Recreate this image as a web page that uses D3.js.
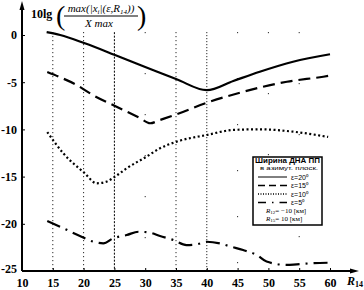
<!DOCTYPE html>
<html>
<head>
<meta charset="utf-8">
<script src="https://cdn.jsdelivr.net/npm/d3@7"></script>
<style>
  body { margin: 0; background: #fff; }
  svg { display: block; }
</style>
</head>
<body>
<svg id="chart"></svg>
<script>
// R14 values (km) and curves for each beam width
const r20 = [14, 16.2, 20.2, 25.1, 30, 35.1, 40, 44.3, 48.6, 54, 60];
const eps20 = [0.3, 0, -0.88, -2.12, -3.4, -4.69, -5.85, -4.87, -3.89, -2.83, -2.04];

const r15 = [14.1, 16.2, 18.9, 21.5, 25.1, 29.2, 30.8, 32.4, 35.1, 40, 45.4, 53, 58.9, 60];
const eps15 = [-3.92, -4.48, -5.3, -6.36, -7.52, -8.82, -9.35, -9.0, -8.4, -7.17, -6.11, -4.95, -4.42, -4.3];

const r10 = [14.1, 16.7, 20.2, 22.1, 23.7, 25.1, 27, 30.2, 32.4, 35.1, 40, 44.3, 48.6, 54, 59.7];
const eps10 = [-10.28, -12.53, -14.65, -15.71, -15.54, -15.01, -14.12, -12.89, -12.0, -11.3, -10.59, -10.06, -9.99, -10.24, -10.8];

const r5 = [14.1, 16.2, 19.4, 21.6, 23.2, 24.8, 27, 28.9, 30.8, 32.4, 34.6, 36.7, 38.4, 40, 42.1, 43.8, 45.9, 48.1, 49.7, 53, 54.6, 57, 60];
const eps5 = [-19.7, -20.31, -21.29, -21.9, -22.07, -21.54, -21.19, -20.84, -20.94, -21.29, -21.72, -22.25, -22.17, -21.9, -22.07, -22.4, -22.78, -23.3, -24.0, -24.36, -24.29, -24.18, -24.12];

const xTicks = [10, 15, 20, 25, 30, 35, 40, 45, 50, 55, 60];
const yTicks = [0, -5, -10, -15, -20, -25];
const legendLabels = ["ε=20⁰", "ε=15⁰", "ε=10⁰", "ε=5⁰"];

const W = 364, H = 290;
const svg = d3.select("#chart").attr("width", W).attr("height", H);

const x = d3.scaleLinear().domain([10, 60]).range([22, 330]);
const y = d3.scaleLinear().domain([-25, 0]).range([271, 35]);

const serif = "'Liberation Serif', 'Times New Roman', serif";

// vertical guide lines
const guides = [
    { r: 15, dash: "1,3" }, { r: 20, dash: "1,3" }, { r: 25, dash: "2,1.5" },
    { r: 30, dash: "1,40" }, { r: 35, dash: "1,3" }, { r: 40, dash: "1,2" },
    { r: 45, dash: "1,45" }, { r: 50, dash: "1,60" }, { r: 55, dash: "1,50" }
];
svg.selectAll(".guide").data(guides).join("line")
    .attr("class", "guide")
    .attr("x1", d => x(d.r)).attr("x2", d => x(d.r))
    .attr("y1", y(0.3)).attr("y2", y(-25))
    .attr("stroke", "#000").attr("stroke-width", 1)
    .attr("stroke-dasharray", d => d.dash);

// axes
const xAxis = svg.append("g")
    .attr("transform", `translate(0,${y(-25)})`)
    .call(d3.axisBottom(x).tickValues(xTicks).tickSizeInner(-3).tickSizeOuter(0).tickPadding(7).tickFormat(d => d.toString()));
xAxis.select(".domain").remove();
xAxis.selectAll("text").attr("font-family", serif).attr("font-size", 12).attr("font-weight", "bold").attr("fill", "#000");

const yAxis = svg.append("g")
    .attr("transform", `translate(${x(10)},0)`)
    .call(d3.axisLeft(y).tickValues(yTicks).tickSizeInner(-3).tickSizeOuter(0).tickPadding(5).tickFormat(d => d.toString()));
yAxis.select(".domain").remove();
yAxis.selectAll("text").attr("font-family", serif).attr("font-size", 12).attr("font-weight", "bold").attr("fill", "#000");
yAxis.selectAll(".tick").filter(d => d === -25).select("text").attr("dy", "0.1em");
yAxis.selectAll(".tick").filter(d => d === -25).select("line").remove();

// axis lines with arrows
svg.append("line").attr("x1", x(10)).attr("x2", x(10)).attr("y1", y(-25)).attr("y2", 8)
    .attr("stroke", "#000").attr("stroke-width", 2);
svg.append("path").attr("d", `M${x(10) - 2.5},10 L${x(10)},1 L${x(10) + 2.5},10 Z`).attr("fill", "#000");
svg.append("line").attr("x1", x(10)).attr("x2", 352).attr("y1", y(-25)).attr("y2", y(-25))
    .attr("stroke", "#000").attr("stroke-width", 2);
svg.append("path").attr("d", `M350,${y(-25) - 2.5} L359,${y(-25)} L350,${y(-25) + 2.5} Z`).attr("fill", "#000");

// R14 axis label
const rl = svg.append("text").attr("x", 347).attr("y", 285)
    .attr("font-family", serif).attr("font-size", 12).attr("font-style", "italic").attr("font-weight", "bold");
rl.append("tspan").text("R");
rl.append("tspan").attr("font-size", 8).attr("font-style", "normal").attr("dy", 2).text("14");

// title formula
svg.append("text").attr("x", 31).attr("y", 18)
    .attr("font-family", serif).attr("font-size", 12).attr("font-weight", "bold").text("10lg");
svg.append("text").attr("x", 56).attr("y", 25)
    .attr("font-family", serif).attr("font-size", 28).attr("font-weight", "normal").text("(");
svg.append("text").attr("x", 137).attr("y", 25)
    .attr("font-family", serif).attr("font-size", 28).attr("font-weight", "normal").text(")");
const num = svg.append("text").attr("x", 101).attr("y", 12).attr("text-anchor", "middle")
    .attr("font-family", serif).attr("font-size", 11).attr("font-style", "italic");
num.append("tspan").text("max(|x");
num.append("tspan").attr("font-size", 7).attr("dy", 2).text("i");
num.append("tspan").attr("dy", -2).text("|(ε,R");
num.append("tspan").attr("font-size", 7).attr("dy", 2).text("14");
num.append("tspan").attr("dy", -2).text("))");
svg.append("line").attr("x1", 64).attr("x2", 138).attr("y1", 16).attr("y2", 16)
    .attr("stroke", "#000").attr("stroke-width", 1);
svg.append("text").attr("x", 99).attr("y", 27).attr("text-anchor", "middle")
    .attr("font-family", serif).attr("font-size", 11).attr("font-style", "italic").text("X max");

// curves
const series = [
    { r: r20, v: eps20, dash: null },
    { r: r15, v: eps15, dash: "12,6" },
    { r: r10, v: eps10, dash: "2,2.5" },
    { r: r5, v: eps5, dash: "14,6,2,6" }
];
const line = d3.line().x(d => x(d[0])).y(d => y(d[1])).curve(d3.curveMonotoneX);
series.forEach(s => {
    svg.append("path")
        .datum(s.r.map((r, i) => [r, s.v[i]]))
        .attr("fill", "none")
        .attr("stroke", "#000")
        .attr("stroke-width", 2.2)
        .attr("stroke-dasharray", s.dash)
        .attr("d", line);
});

// legend
const lg = svg.append("g");
lg.append("rect").attr("x", 253).attr("y", 157).attr("width", 69).attr("height", 68)
    .attr("fill", "#fff").attr("stroke", "#000").attr("stroke-width", 1.5);
const sans = "'Liberation Sans', Arial, sans-serif";
lg.append("text").attr("x", 255).attr("y", 163).attr("font-family", sans).attr("font-size", 7)
    .attr("font-weight", "bold").attr("textLength", 65).attr("lengthAdjust", "spacingAndGlyphs").text("Ширина ДНА ПП");
lg.append("text").attr("x", 260).attr("y", 169.5).attr("font-family", sans).attr("font-size", 5.5)
    .attr("textLength", 58).attr("lengthAdjust", "spacingAndGlyphs").text("в азимут. плоск.");
series.forEach((s, i) => {
    const ly = 177 + i * 8.5;
    lg.append("line").attr("x1", 258).attr("x2", 287).attr("y1", ly).attr("y2", ly)
        .attr("stroke", "#000").attr("stroke-width", i === 0 ? 1 : 1.5)
        .attr("stroke-dasharray", i === 0 ? null : (i === 1 ? "7,4" : i === 2 ? "1,1.5" : "8,6,1.5,6"));
    lg.append("text").attr("x", 291).attr("y", ly + 2.5).attr("font-family", sans).attr("font-size", 7)
        .text(legendLabels[i]);
});
const t1 = lg.append("text").attr("x", 266).attr("y", 213).attr("font-family", serif).attr("font-size", 7);
t1.append("tspan").attr("font-style", "italic").text("R");
t1.append("tspan").attr("font-size", 5).attr("dy", 1).text("12");
t1.append("tspan").attr("dy", -1).text("= −10 [км]");
const t2 = lg.append("text").attr("x", 266).attr("y", 221).attr("font-family", serif).attr("font-size", 7);
t2.append("tspan").attr("font-style", "italic").text("R");
t2.append("tspan").attr("font-size", 5).attr("dy", 1).text("15");
t2.append("tspan").attr("dy", -1).text("= 10 [км]");
</script>
</body>
</html>
